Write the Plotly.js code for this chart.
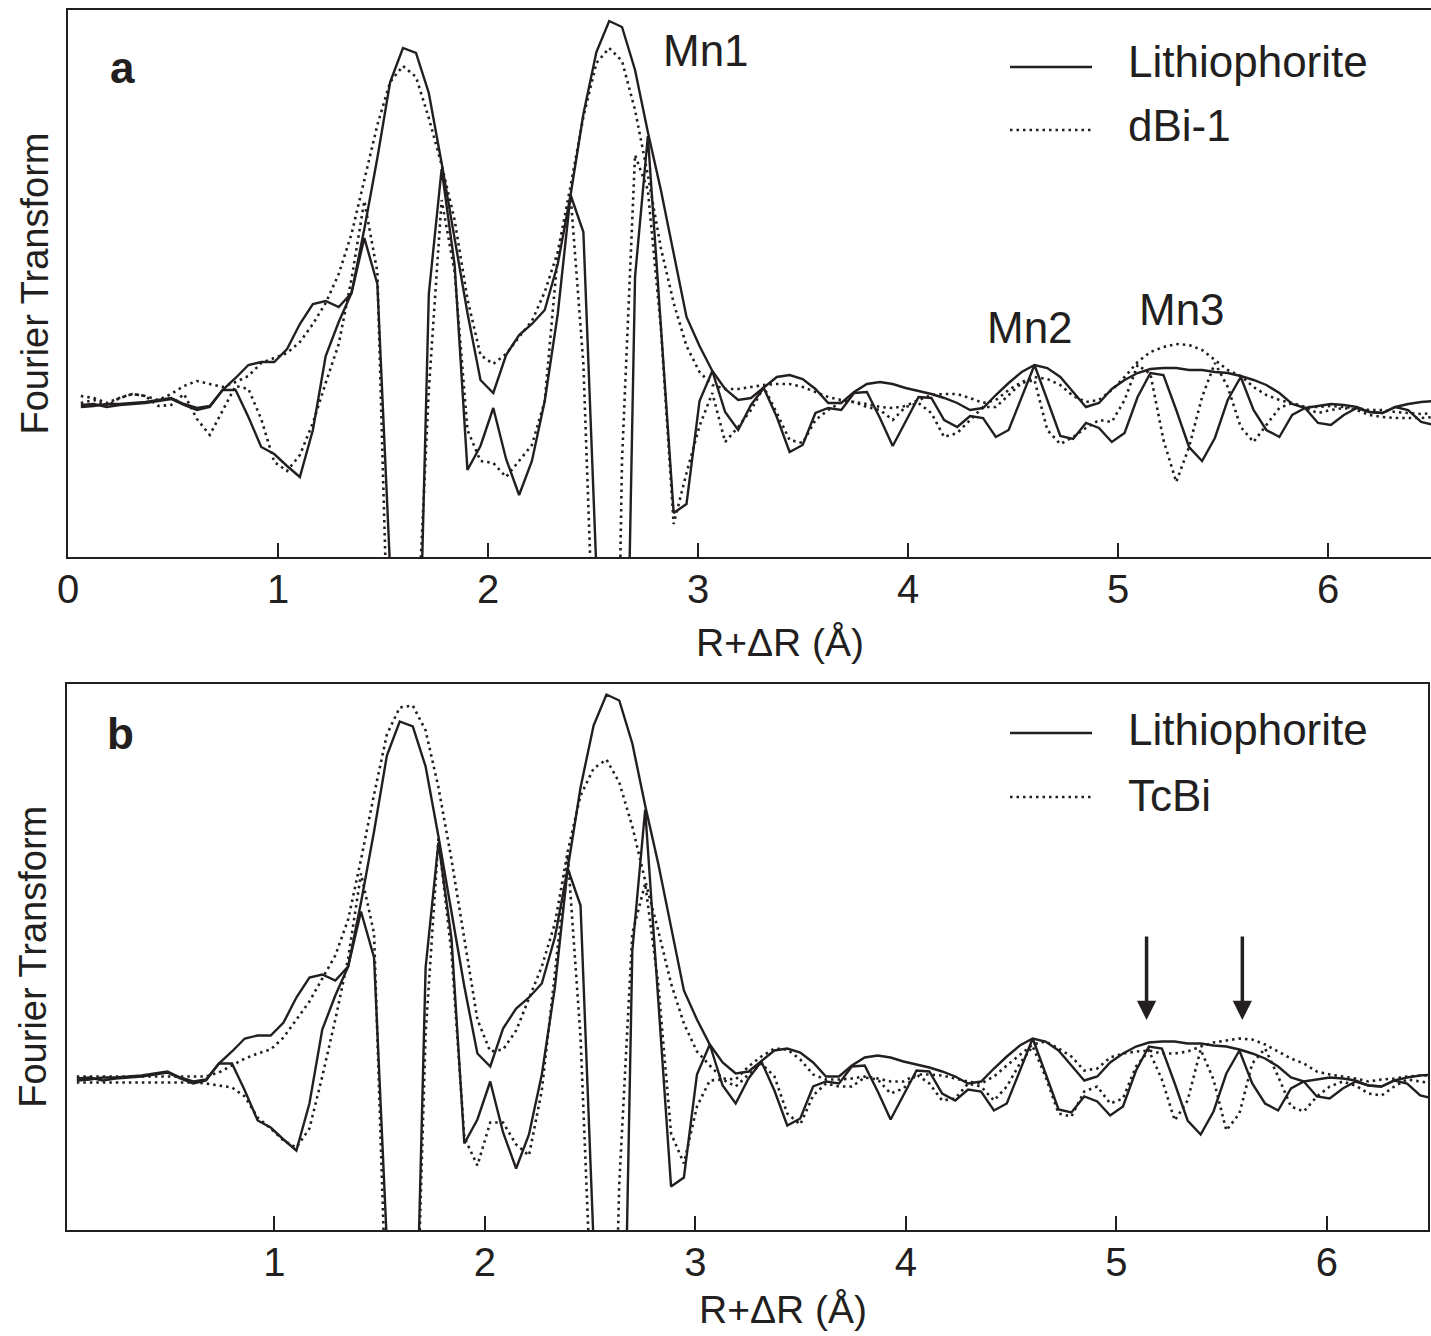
<!DOCTYPE html>
<html><head><meta charset="utf-8">
<script src="https://cdn.plot.ly/plotly-3.0.1.min.js"></script>
<style>body{margin:0;background:#fff}#chart{width:1431px;height:1336px}</style>
</head><body><div id="chart"></div>
<script>
// R + dR grid (Angstrom)
const R = [0.061,0.123,0.184,0.245,0.307,0.368,0.430,0.491,0.552,0.614,
0.675,0.736,0.798,0.859,0.920,0.982,1.043,1.104,1.166,1.227,
1.289,1.350,1.411,1.473,1.534,1.595,1.657,1.718,1.779,1.841,
1.902,1.964,2.025,2.086,2.148,2.209,2.270,2.332,2.393,2.454,
2.516,2.577,2.638,2.700,2.761,2.823,2.884,2.945,3.007,3.068,
3.129,3.191,3.252,3.313,3.375,3.436,3.498,3.559,3.620,3.682,
3.743,3.804,3.866,3.927,3.988,4.050,4.111,4.172,4.234,4.295,
4.357,4.418,4.479,4.541,4.602,4.663,4.725,4.786,4.847,4.909,
4.970,5.031,5.093,5.154,5.216,5.277,5.338,5.400,5.461,5.522,
5.584,5.645,5.706,5.768,5.829,5.890,5.952,6.013,6.075,6.136,
6.197,6.259,6.320,6.381,6.443,6.504];

// Lithiophorite: FT magnitude and imaginary part
const lithMag = [0.03,0.04,0.06,0.06,0.07,0.08,0.10,0.12,0.06,0.02,
0.04,0.20,0.32,0.45,0.48,0.48,0.61,0.86,1.06,1.09,
1.03,1.17,1.81,2.52,3.28,3.62,3.57,3.17,2.47,1.70,
0.97,0.30,0.17,0.55,0.75,0.86,1.00,1.46,2.15,2.96,
3.58,3.89,3.83,3.40,2.78,2.20,1.55,0.93,0.64,0.39,
0.21,0.10,0.12,0.22,0.33,0.35,0.31,0.21,0.07,0.07,
0.18,0.26,0.28,0.26,0.22,0.19,0.16,0.12,0.07,0.00,
0.02,0.15,0.27,0.38,0.45,0.42,0.33,0.18,0.03,0.07,
0.21,0.30,0.37,0.41,0.42,0.42,0.40,0.40,0.38,0.37,
0.34,0.30,0.25,0.17,0.06,0.02,0.04,0.06,0.05,0.03,
-0.02,-0.03,0.03,0.06,0.08,0.09];
const lithIm = [0.05,0.06,0.03,0.05,0.06,0.07,0.09,0.11,0.05,0.00,
0.03,0.20,0.20,-0.07,-0.37,-0.44,-0.56,-0.67,-0.20,0.54,
0.88,1.17,1.72,1.26,-1.60,-4.00,-4.00,1.16,2.41,1.45,
-0.60,-0.36,0.02,-0.49,-0.85,-0.51,0.09,0.96,2.15,1.78,
-1.60,-5.00,-5.50,1.33,2.74,0.86,-1.03,-0.94,0.09,0.39,
-0.02,-0.20,0.05,0.22,-0.07,-0.42,-0.35,-0.03,0.02,0.00,
0.17,0.18,-0.08,-0.36,-0.12,0.13,0.12,-0.10,-0.17,-0.06,
-0.08,-0.27,-0.20,0.13,0.45,0.10,-0.26,-0.29,-0.13,-0.18,
-0.32,-0.23,0.13,0.37,0.35,0.00,-0.37,-0.51,-0.28,0.10,
0.33,0.00,-0.20,-0.27,-0.05,0.02,-0.13,-0.15,-0.05,0.02,
-0.02,-0.03,0.03,0.00,-0.12,-0.15];

// dBi-1
const dbiMag = [0.14,0.12,0.07,0.12,0.16,0.14,0.10,0.16,0.24,0.29,
0.26,0.23,0.28,0.34,0.47,0.52,0.57,0.68,0.86,1.07,
1.36,1.76,2.30,2.85,3.28,3.44,3.33,2.92,2.45,1.90,
1.11,0.55,0.46,0.56,0.73,0.89,1.18,1.58,2.24,2.93,
3.47,3.62,3.49,3.00,2.35,1.62,1.07,0.64,0.38,0.25,
0.21,0.21,0.23,0.25,0.26,0.26,0.23,0.18,0.13,0.10,
0.08,0.06,0.03,0.02,0.04,0.10,0.15,0.16,0.16,0.12,
0.07,0.10,0.20,0.28,0.33,0.31,0.25,0.14,0.08,0.10,
0.20,0.33,0.48,0.58,0.63,0.66,0.65,0.60,0.50,0.40,
0.34,0.23,0.15,0.10,0.07,0.03,0.03,0.04,0.03,0.02,
0.00,0.00,-0.02,-0.03,-0.04,-0.03];
const dbiIm = [0.07,0.10,0.04,0.12,0.16,0.14,0.04,0.05,0.16,-0.09,
-0.25,0.00,0.24,0.21,-0.09,-0.52,-0.61,-0.45,-0.13,0.27,
0.66,1.31,2.09,1.38,-3.20,-4.50,-2.50,0.20,2.10,1.38,
-0.20,-0.51,-0.53,-0.67,-0.51,-0.35,0.09,1.55,2.15,0.46,
-3.25,-8.00,-0.50,2.55,2.20,0.82,-1.14,-0.63,-0.16,0.17,
-0.32,-0.17,0.00,0.23,-0.03,-0.30,-0.33,-0.10,0.00,0.08,
0.08,0.03,0.00,-0.10,0.03,0.07,-0.03,-0.27,-0.23,-0.10,
0.03,0.03,0.15,0.27,0.30,-0.20,-0.34,-0.27,-0.18,-0.10,
-0.12,0.10,0.45,0.36,-0.30,-0.72,-0.37,0.13,0.47,0.23,
-0.17,-0.32,-0.15,0.02,0.07,0.02,-0.03,0.00,0.02,0.00,
-0.05,-0.07,-0.08,-0.08,-0.08,-0.07];

// TcBi
const tcbiMag = [0.07,0.07,0.07,0.07,0.07,0.07,0.07,0.07,0.07,0.07,
0.07,0.11,0.18,0.25,0.30,0.34,0.46,0.64,0.82,1.05,
1.28,1.64,2.24,2.89,3.49,3.76,3.78,3.53,2.96,2.24,
1.46,0.64,0.32,0.34,0.53,0.85,1.17,1.60,2.32,2.88,
3.15,3.24,3.01,2.57,2.03,1.53,1.00,0.60,0.32,0.18,
0.05,0.04,0.17,0.27,0.35,0.34,0.24,0.09,0.04,0.04,
0.05,0.07,0.05,0.02,0.02,0.09,0.09,0.08,0.05,0.02,
0.00,0.07,0.18,0.29,0.39,0.42,0.35,0.27,0.13,0.15,
0.26,0.30,0.32,0.33,0.30,0.30,0.32,0.37,0.41,0.43,
0.45,0.44,0.39,0.32,0.25,0.20,0.12,0.09,0.07,0.05,
0.02,0.04,0.05,0.07,0.08,0.08];
const tcbiIm = [0.01,0.01,0.01,0.01,0.01,0.01,0.01,0.01,0.01,0.01,
0.00,-0.02,-0.04,-0.13,-0.34,-0.45,-0.57,-0.64,-0.45,0.07,
0.64,1.25,2.10,1.50,-2.50,-4.00,-3.80,0.50,2.45,1.30,
-0.54,-0.82,-0.39,-0.39,-0.61,-0.72,-0.07,1.10,2.29,0.46,
-2.11,-6.00,-1.00,1.50,2.00,1.00,-0.50,-0.80,-0.23,0.03,
0.04,-0.03,0.09,0.20,0.07,-0.30,-0.41,-0.12,0.00,-0.03,
-0.03,0.06,0.04,-0.10,-0.05,0.09,0.00,-0.17,-0.15,0.00,
-0.03,-0.17,-0.03,0.20,0.37,0.07,-0.30,-0.33,-0.08,-0.03,
-0.20,-0.15,0.17,0.33,0.04,-0.37,-0.17,0.34,0.04,-0.47,
-0.30,0.20,0.35,0.07,-0.23,-0.28,-0.13,-0.03,0.02,-0.02,
-0.10,-0.12,-0.03,0.04,0.02,0.00];

const tickVals = [0,1,2,3,4,5,6];
const tickText = ['0','1','2','3','4','5','6'];
const tickValsB = [1,2,3,4,5,6];
const tickTextB = ['1','2','3','4','5','6'];
const xTitle = 'R+\u0394R (\u00C5)';
const yTitle = 'Fourier Transform';

const INK = '#231f20';
const FONT = 'Liberation Sans, Arial, Helvetica, sans-serif';
const W = 1431, H = 1336;
const fx = v => v / W, fy = v => 1 - v / H;
const solid = {color: INK, width: 2.4};
const dotted = {color: INK, width: 2.6, dash: '2.5px,4px'};

function tr(y, line, xa, ya, name) {
  return {x: R, y: y, type: 'scatter', mode: 'lines', line: line, xaxis: xa, yaxis: ya,
          name: name, showlegend: false, hoverinfo: 'skip'};
}
const data = [
  tr(lithMag, solid, 'x', 'y', 'Lithiophorite'),
  tr(lithIm, solid, 'x', 'y', 'Lithiophorite'),
  tr(dbiMag, dotted, 'x', 'y', 'dBi-1'),
  tr(dbiIm, dotted, 'x', 'y', 'dBi-1'),
  tr(lithMag, solid, 'x2', 'y2', 'Lithiophorite'),
  tr(lithIm, solid, 'x2', 'y2', 'Lithiophorite'),
  tr(tcbiMag, dotted, 'x2', 'y2', 'TcBi'),
  tr(tcbiIm, dotted, 'x2', 'y2', 'TcBi')
];

function xax(dom, rng, tv, tt) {
  return {domain: dom, range: rng, tickmode: 'array', tickvals: tv, ticktext: tt,
    ticks: 'inside', ticklen: 14, tickwidth: 2, tickcolor: INK,
    showline: true, linewidth: 2, linecolor: INK, mirror: true,
    showgrid: false, zeroline: false, ticklabelstandoff: -4,
    tickfont: {family: FONT, size: 40, color: INK},
    title: {text: ''}};
}
function yax(dom, rng, mirror) {
  return {domain: dom, range: rng, showline: true, linewidth: 2, linecolor: INK, mirror: mirror,
    ticks: '', showticklabels: false, showgrid: false, zeroline: false,
    title: {text: yTitle, font: {family: FONT, size: 38, color: INK}, standoff: 6}};
}

const txt = (t, x, y, size, xanchor, extra) => Object.assign({
  text: t, xref: 'paper', yref: 'paper', x: fx(x), y: fy(y), xanchor: xanchor || 'left', yanchor: 'middle',
  showarrow: false, font: {family: FONT, size: size, color: INK}}, extra || {});

const annotations = [
  txt(xTitle, 780, 642, 39, 'center'),
  txt(xTitle, 783, 1309, 39, 'center'),
  txt('<b>a</b>', 108, 67, 44),
  txt('<b>b</b>', 105, 733, 44),
  txt('Mn1', 706, 50, 44, 'center'),
  txt('Mn2', 1030, 327, 44, 'center'),
  txt('Mn3', 1182, 310, 44, 'center'),
  txt('Lithiophorite', 1126, 62, 44),
  txt('dBi-1', 1126, 126, 44),
  txt('Lithiophorite', 1126, 730, 44),
  txt('TcBi', 1126, 795, 44),
  {x: 5.143, y: 0.635, xref: 'x2', yref: 'y2', ax: 0, ay: -85, showarrow: true,
   arrowhead: 2, arrowsize: 1.1, arrowwidth: 3.5, arrowcolor: INK, text: ''},
  {x: 5.598, y: 0.635, xref: 'x2', yref: 'y2', ax: 0, ay: -85, showarrow: true,
   arrowhead: 2, arrowsize: 1.1, arrowwidth: 3.5, arrowcolor: INK, text: ''}
];

const lineShape = (x0, x1, y, dash) => ({type: 'line', xref: 'paper', yref: 'paper',
  x0: fx(x0), x1: fx(x1), y0: fy(y), y1: fy(y),
  line: dash ? {color: INK, width: 2.6, dash: '2.5px,4px'} : {color: INK, width: 2.4}});
const shapes = [
  lineShape(1010, 1092, 67, false),
  lineShape(1010, 1092, 130, true),
  lineShape(1010, 1092, 733, false),
  lineShape(1010, 1092, 797, true)
];

const layout = {
  width: W, height: H, margin: {l: 0, r: 0, t: 0, b: 0},
  paper_bgcolor: '#fff', plot_bgcolor: 'rgba(0,0,0,0)', showlegend: false,
  xaxis: xax([fx(68), 1], [0, 6.49], tickVals, tickText),
  yaxis: yax([fy(557), fy(10)], [-1.47, 4.0], false),
  xaxis2: Object.assign(xax([fx(66.6), fx(1428)], [0.0124, 6.48], tickValsB, tickTextB), {anchor: 'y2'}),
  yaxis2: Object.assign(yax([fy(1230), fy(683.5)], [-1.465, 4.0], true), {anchor: 'x2'}),
  annotations: annotations, shapes: shapes
};
layout.xaxis.anchor = 'y';
layout.yaxis.anchor = 'x';

Plotly.newPlot('chart', data, layout, {staticPlot: true, displayModeBar: false});
</script></body></html>
